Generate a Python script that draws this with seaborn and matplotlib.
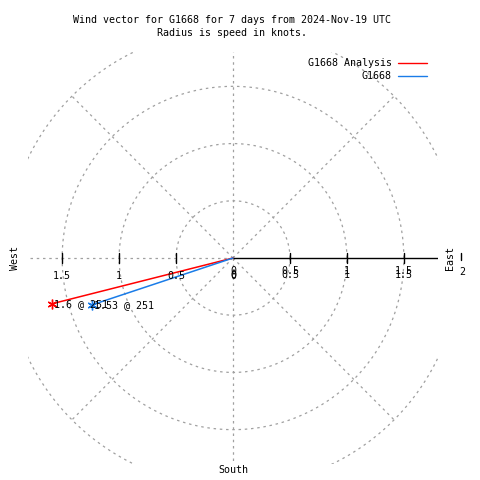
import numpy as np
import pandas as pd

import matplotlib
matplotlib.use("Agg")
import matplotlib.pyplot as plt
import seaborn as sns


# vectors (knots, east / north components)
series = ["G1668 Analysis", "G1668"]
u_comp = [-1.59, -1.24]
v_comp = [-0.40, -0.41]
end_labels = ["1.6 @ 251", "1.53 @ 251"]
colors = ["#ff0000", "#1a7ce8"]

rings = [0.5, 1.0, 1.5, 2.0]
left_ticks = [-1.5, -1.0, -0.5, 0.0]
left_tick_labels = ["1.5", "1", "0.5", "0"]
right_ticks = [0.0, 0.5, 1.0, 1.5]
right_tick_labels = ["0", "0.5", "1", "1.5"]

title = "Wind vector for G1668 for 7 days from 2024-Nov-19 UTC\nRadius is speed in knots."


def main():
    sns.set_style("white")
    plt.rcParams["font.family"] = ["DejaVu Sans Mono"]
    plt.rcParams["text.color"] = "black"
    fs = 7.2

    fig = plt.figure(figsize=(4.8, 4.8), dpi=100)
    W = H = 480
    # square plot box, +-1.8 knots each way
    ax = fig.add_axes([28 / W, 1 - 464 / H, 410 / W, 412 / H])
    ax.set_xlim(-1.8, 1.8)
    ax.set_ylim(-1.8, 1.8)
    ax.axis("off")

    grid_kw = dict(color="#a0a0a0", lw=0.9, ls=(0, (2, 3)))
    t = np.linspace(0, 2 * np.pi, 400)
    for r in rings:
        ax.plot(r * np.cos(t), r * np.sin(t), **grid_kw)
    # radial spokes
    for ang in [45, 90, 135, 225, 270, 315]:
        a = np.deg2rad(ang)
        ax.plot([0, 2 * np.cos(a)], [0, 2 * np.sin(a)], **grid_kw)
    ax.plot([-2, 0], [0, 0], **grid_kw)

    # east axis, solid
    ax.plot([0, 2], [0, 0], color="black", lw=1)
    tk = 4.5 / 114
    for x in left_ticks[:-1] + right_ticks[1:]:
        ax.plot([x, x], [-tk, tk], color="black", lw=1)
    for x, lab in zip(left_ticks, left_tick_labels):
        ax.annotate(lab, (x, 0), xytext=(0, -18), textcoords="offset pixels",
                    ha="center", va="center", fontsize=fs)
    for dy in (-13, -17):
        for x, lab in zip(right_ticks, right_tick_labels):
            ax.annotate(lab, (x, 0), xytext=(0, dy), textcoords="offset pixels",
                        ha="center", va="center", fontsize=fs)
    ax.plot([2, 2], [-2 / 114, 5 / 114], color="black", lw=1, clip_on=False)
    ax.annotate("2", (2, 0), xytext=(1, -14), textcoords="offset pixels",
                ha="center", va="center", fontsize=fs, annotation_clip=False)

    # vectors
    df = pd.DataFrame({"series": series, "u": u_comp, "v": v_comp})
    for (_, row), col, lab in zip(df.iterrows(), colors, end_labels):
        seg = pd.DataFrame({"x": [0, row.u], "y": [0, row.v]})
        sns.lineplot(data=seg, x="x", y="y", sort=False, color=col, lw=1.1,
                     ax=ax, label=row.series, legend=False)
        ax.plot([row.u], [row.v], marker=(6, 2, 0), ms=7, color=col, mew=1)
        ax.annotate(lab, (row.u, row.v), xytext=(2, 0), textcoords="offset pixels",
                    ha="left", va="center", fontsize=fs)

    # compass labels and title
    fig.text(15 / W, 1 - 258 / H, "West", rotation=90, ha="center", va="center", fontsize=fs)
    fig.text(450 / W, 1 - 258 / H, "East", rotation=90, ha="center", va="center", fontsize=fs)
    fig.text(233 / W, 1 - 470 / H, "South", ha="center", va="center", fontsize=fs)
    fig.text(232 / W, 1 - 26.5 / H, title, ha="center", va="center", fontsize=fs,
             linespacing=1.45, multialignment="center")

    # legend drawn like gnuplot's key
    for i, (name, col) in enumerate(zip(series, colors)):
        y = 1 - (63 + 13 * i) / H
        fig.text(392 / W, y, name, ha="right", va="center", fontsize=fs)
        fig.add_artist(plt.Line2D([398 / W, 427 / W], [y, y], color=col, lw=1))

    fig.savefig("out.png", dpi=100)


if __name__ == '__main__':
    main()
